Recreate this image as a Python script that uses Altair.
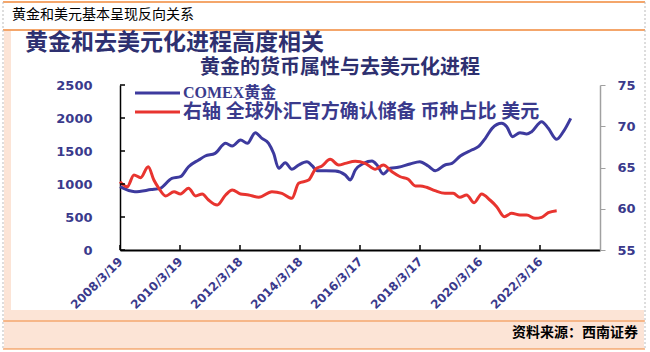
import altair as alt
import pandas as pd

# ---------------- data ----------------
gold_dates = [
    "2008-03-19", "2008-09-15", "2009-04-01", "2009-07-20", "2009-12-10",
    "2010-03-25", "2010-07-01", "2010-11-01", "2011-01-20", "2011-05-20",
    "2011-09-25", "2011-12-15", "2012-03-25", "2012-06-15", "2012-09-20",
    "2012-12-10", "2013-03-01", "2013-05-01", "2013-07-01", "2013-09-20",
    "2013-12-10", "2014-03-01", "2014-06-10", "2014-08-15", "2014-10-10",
    "2015-05-20", "2015-09-20", "2015-11-20", "2016-01-20", "2016-05-01",
    "2016-08-10", "2016-10-10", "2016-12-25", "2017-03-20", "2017-06-25",
    "2017-11-15", "2018-03-15", "2018-06-25", "2018-09-20", "2019-01-15",
    "2019-04-10", "2019-07-20", "2019-12-05", "2020-02-25", "2020-05-20",
    "2020-08-10", "2020-12-05", "2021-02-05", "2021-04-15", "2021-07-15",
    "2021-10-05", "2021-12-05", "2022-04-05", "2022-06-25", "2022-10-05",
    "2022-12-25", "2023-03-25",
]
gold_values = [
    960, 884, 915, 934, 1086,
    1111, 1262, 1364, 1424, 1465,
    1616, 1576, 1667, 1616, 1778,
    1692, 1616, 1465, 1238, 1323,
    1222, 1288, 1338, 1273, 1202,
    1197, 1136, 1061, 1212, 1313,
    1348, 1288, 1152, 1238, 1253,
    1303, 1338, 1273, 1202, 1288,
    1313, 1424, 1515, 1565, 1692,
    1843, 1919, 1868, 1717, 1778,
    1758, 1793, 1944, 1843, 1677,
    1793, 1995,
]

usd_dates = [
    "2008-03-19", "2008-06-15", "2008-09-05", "2008-11-25", "2009-02-25",
    "2009-05-05", "2009-07-05", "2009-09-25", "2010-01-05", "2010-03-25",
    "2010-07-01", "2010-09-25", "2010-12-15", "2011-03-01", "2011-06-15",
    "2011-09-25", "2011-12-15", "2012-03-25", "2012-07-01", "2012-11-01",
    "2013-04-10", "2013-08-10", "2013-12-10", "2014-03-01", "2014-07-01",
    "2014-09-20", "2014-12-10", "2015-03-20", "2015-07-01", "2015-09-20",
    "2016-01-20", "2016-05-20", "2016-09-20", "2016-12-25", "2017-04-10",
    "2017-07-20", "2017-10-25", "2018-01-20", "2018-03-20", "2018-06-05",
    "2018-09-15", "2019-01-15", "2019-04-25", "2019-07-15", "2019-10-05",
    "2020-01-05", "2020-04-05", "2020-07-15", "2020-10-05", "2021-01-05",
    "2021-04-05", "2021-07-15", "2021-10-05", "2022-01-15", "2022-04-05",
    "2022-06-25", "2022-10-05",
]
usd_share = [
    63.28, 62.67, 64.09, 63.77, 65.10,
    63.48, 62.48, 61.55, 62.07, 61.79,
    62.50, 61.55, 61.79, 61.06, 60.45,
    61.67, 62.27, 61.79, 61.67, 61.39,
    62.07, 61.87, 61.27, 63.08, 63.48,
    64.78, 65.18, 65.99, 65.30, 65.50,
    65.75, 65.50, 64.78, 65.30, 64.49,
    63.88, 63.57, 62.76, 62.76, 62.60,
    62.19, 61.87, 61.87, 61.39, 61.67,
    60.73, 61.79, 61.06, 60.25, 59.04,
    59.45, 59.24, 59.24, 58.84, 58.96,
    59.52, 59.77,
]

x_tick_dates = ["2008-03-19", "2010-03-19", "2012-03-18", "2014-03-18",
                "2016-03-17", "2018-03-17", "2020-03-16", "2022-03-16"]
x_domain = ["2008-03-19", "2024-03-15"]
left_ticks = [0, 500, 1000, 1500, 2000, 2500]
right_ticks = [55, 60, 65, 70, 75]

page_title = "黄金和美元基本呈现反向关系"
chart_title = "黄金和去美元化进程高度相关"
chart_subtitle = "黄金的货币属性与去美元化进程"
legend_gold = "COMEX黄金"
legend_usd = "右轴 全球外汇官方确认储备 币种占比 美元"
source_text = "资料来源：西南证券"

# ---------------- style ----------------
W, H = 480, 165
OX, OY = 120, 85          # plot origin in page pixels
NAVY = "#3a3a8c"
TITLE_NAVY = "#2e3070"
BLUE = "#3d3a9e"
RED = "#e8342f"
ORANGE = "#f0883a"
PEACH = "#fce4d6"
GRAY = "#a0a0a0"
CJK = "Noto Sans CJK SC"
NUM = "DejaVu Sans"


def dt(s):
    y, m, d = map(int, s.split("-"))
    return alt.DateTime(year=y, month=m, date=d, utc=True)


one = pd.DataFrame({"k": [0]})
gold_df = pd.DataFrame({"date": gold_dates, "value": gold_values})
usd_df = pd.DataFrame({"date": usd_dates, "value": usd_share})
xt_df = pd.DataFrame({"date": x_tick_dates})
lt_df = pd.DataFrame({"v": left_ticks})

x_scale = alt.Scale(type="utc", domain=[dt(x_domain[0]), dt(x_domain[1])])


def rect(x1, x2, y1, y2, color):
    return alt.Chart(one).mark_rect(color=color).encode(
        x=alt.value(x1 - OX), x2=alt.value(x2 - OX),
        y=alt.value(y1 - OY), y2=alt.value(y2 - OY))


def rule(x1, x2, y1, y2, color, width=1.0, dash=None):
    kw = dict(color=color, strokeWidth=width)
    if dash:
        kw["strokeDash"] = dash
    return alt.Chart(one).mark_rule(**kw).encode(
        x=alt.value(x1 - OX), x2=alt.value(x2 - OX),
        y=alt.value(y1 - OY), y2=alt.value(y2 - OY))


def text(x, y, s, size, color, weight="normal", align="left", font=CJK):
    return alt.Chart(one).mark_text(
        align=align, baseline="middle", fontSize=size, color=color,
        fontWeight=weight, font=font).encode(
        x=alt.value(x - OX), y=alt.value(y - OY), text=alt.value(s))


decor = [
    rect(4, 11, 31, 349, PEACH),
    rect(4, 644, 310, 349, PEACH),
    rule(3, 645, 2, 2, ORANGE, 1.5),
    rule(3, 645, 30, 30, ORANGE, 1.5),
    rule(3, 645, 321, 321, ORANGE, 1.2),
    rule(3, 645, 349, 349, ORANGE, 1.2),
    rule(3, 3, 2, 350, "#bbbbbb", 1, [2, 2]),
    rule(645, 645, 2, 350, "#bbbbbb", 1, [2, 2]),
]

date_label = ("utcFormat(datum.value, '%Y') + '/' + (utcmonth(datum.value) + 1)"
              " + '/' + utcdate(datum.value)")

gold_line = alt.Chart(gold_df).mark_line(
    color=BLUE, strokeWidth=3, interpolate="monotone").encode(
    x=alt.X("date:T", scale=x_scale, axis=alt.Axis(
        values=[dt(s) for s in x_tick_dates], labelExpr=date_label,
        labelAngle=-45, labelAlign="right",
        labelBaseline="middle", labelPadding=9, ticks=False, grid=False,
        domainColor="black", domainWidth=2, labelColor=NAVY, labelFont=NUM,
        labelFontWeight="bold", labelFontSize=12, title=None,
        labelOverlap=False)),
    y=alt.Y("value:Q", scale=alt.Scale(domain=[0, 2500], nice=False),
            axis=alt.Axis(orient="left", values=left_ticks, ticks=False,
                          format="d",
                          grid=False, domainColor="black", domainWidth=1.5,
                          labelPadding=28, labelColor=NAVY, labelFont=NUM,
                          labelFontWeight="bold", labelFontSize=13,
                          title=None)),
)

usd_line = alt.Chart(usd_df).mark_line(
    color=RED, strokeWidth=3, interpolate="monotone").encode(
    x=alt.X("date:T", scale=x_scale),
    y=alt.Y("value:Q", scale=alt.Scale(domain=[55, 75], nice=False),
            axis=alt.Axis(orient="right", values=right_ticks, ticks=True,
                          format="d",
                          tickColor=GRAY, tickSize=5, grid=False,
                          domainColor=GRAY, domainWidth=1.5,
                          labelPadding=12, labelColor=NAVY, labelFont=NUM,
                          labelFontWeight="bold", labelFontSize=13,
                          title=None)),
)

x_ticks_in = alt.Chart(xt_df).mark_rule(color="black", strokeWidth=1.5).encode(
    x=alt.X("date:T", scale=x_scale),
    y=alt.value(H), y2=alt.value(H - 5))

left_ticks_in = alt.Chart(lt_df).mark_rule(color="black", strokeWidth=1.5).encode(
    y=alt.Y("v:Q", scale=alt.Scale(domain=[0, 2500], nice=False), axis=None),
    x=alt.value(0), x2=alt.value(5))

texts = [
    text(12, 15, page_title, 14, "black"),
    text(25, 43, chart_title, 23, TITLE_NAVY, "bold"),
    text(340, 68, chart_subtitle, 20, TITLE_NAVY, "bold", "center"),
    rule(135, 180, 93, 93, BLUE, 3),
    rule(135, 180, 112, 112, RED, 3),
    text(183, 93, legend_gold, 16, NAVY, "bold",
         font="Liberation Serif, " + CJK),
    text(183, 112, legend_usd, 19, NAVY, "bold",
         font="Liberation Serif, " + CJK),
    text(638, 333, source_text, 14, "black", "bold", "right"),
]

chart = alt.layer(
    *decor, gold_line, usd_line, x_ticks_in, left_ticks_in, *texts
).resolve_scale(y="independent").properties(
    width=W, height=H,
    padding={"left": OX, "top": OY, "right": 650 - OX - W,
             "bottom": 352 - OY - H},
    autosize=alt.AutoSizeParams(type="none"),
    background="white",
).configure_view(stroke=None)

chart.save("out.html", embed_options={"renderer": "svg", "actions": False})
